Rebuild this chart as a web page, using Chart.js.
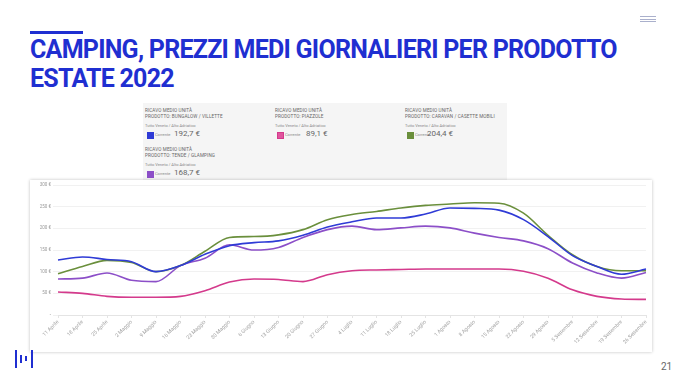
<!DOCTYPE html>
<html>
<head>
<meta charset="utf-8">
<script src="https://cdn.jsdelivr.net/npm/chart.js@4.4.1/dist/chart.umd.min.js"></script>
<style>
  html,body{margin:0;padding:0;background:#fff;}
  body{width:680px;height:383px;position:relative;overflow:hidden;font-family:Roboto,"Noto Sans",sans-serif;}
  .bar{position:absolute;left:30px;top:31px;width:53px;height:3px;background:#1f2fd1;}
  .title{position:absolute;left:30px;top:35px;font-family:Roboto;font-weight:700;font-size:25px;line-height:29px;color:#1f2fd1;letter-spacing:-0.75px;white-space:nowrap;}
  .menu{position:absolute;left:640px;top:16px;width:16px;}
  .menu div{height:1px;background:#aab0cc;margin-bottom:1.5px;}
  .panel{position:absolute;left:143px;top:103px;width:364px;height:77px;background:#f5f5f5;}
  .entry{position:absolute;color:#555;white-space:nowrap;width:125px;}
  .entry .t{font-size:4.6px;line-height:5.6px;letter-spacing:0.1px;text-transform:uppercase;color:#666;}
  .entry .s{font-size:4px;color:#888;margin-top:4px;}
  .entry .v{margin-top:2px;height:9px;position:relative;}
  .entry .sw{position:absolute;left:2px;top:2px;width:5px;height:5px;border:1px solid;}
  .entry .c{position:absolute;left:10px;top:2px;font-size:4px;color:#888;}
  .entry .n{position:absolute;top:-1px;font-size:8px;color:#666;}
  .card{position:absolute;left:30px;top:180px;width:622px;height:172px;background:#fff;box-shadow:0 0 3px rgba(0,0,0,0.25);}
  .card canvas{position:absolute;left:0;top:0;}
  .logo{position:absolute;left:14px;top:350px;width:20px;height:18px;}
  .logo div{position:absolute;background:#1f2fd1;}
  .pg{position:absolute;left:661px;top:361px;font-size:10px;color:#666;font-family:Roboto;}
</style>
</head>
<body>
<div class="bar"></div>
<div class="title">CAMPING, PREZZI MEDI GIORNALIERI PER PRODOTTO<br>ESTATE 2022</div>
<div class="menu"><div></div><div></div><div></div></div>
<div class="panel" id="panel"></div>
<div class="card"><canvas id="c" width="622" height="172"></canvas></div>
<div class="logo">
  <div style="left:1px;top:0;width:2px;height:18px"></div>
  <div style="left:6px;top:5px;width:2px;height:8px"></div>
  <div style="left:11px;top:6px;width:2px;height:5px"></div>
  <div style="left:17px;top:0;width:2px;height:18px"></div>
</div>
<div class="pg">21</div>
<script>
const labels = ["11 Aprile","18 Aprile","25 Aprile","2 Maggio","9 Maggio","16 Maggio","23 Maggio","30 Maggio","6 Giugno","13 Giugno","20 Giugno","27 Giugno","4 Luglio","11 Luglio","18 Luglio","25 Luglio","1 Agosto","8 Agosto","15 Agosto","22 Agosto","29 Agosto","5 Settembre","12 Settembre","19 Settembre","26 Settembre"];
const bungalow = [127,134,128,123,100,114,140,160,167,171,184,203,215,224,224,233,247,246,242,220,181,137,112,94,106];
const piazzole = [53,50,43,41,41,43,56,76,83,82,77,93,102,104,105,106,106,106,106,101,85,58,43,37,36];
const caravan  = [95,112,126,121,100,114,147,179,181,185,197,220,232,239,247,253,256,259,258,235,184,139,112,102,102];
const tende    = [83,85,97,80,77,114,131,162,150,156,179,197,205,197,201,205,201,189,179,171,153,120,97,85,98];
const yTicks = [0,50,100,150,200,250,300];

const seriesNames = ["BUNGALOW / VILLETTE","PIAZZOLE","CARAVAN / CASETTE MOBILI","TENDE / GLAMPING"];
const seriesAvg = ["192,7 €","89,1 €","204,4 €","168,7 €"];
const colors = ["#2f3bd6","#d43a8c","#6a8f3c","#8c4fc8"];
const fills  = ["#2f3bd6","#e0559e","#6a8f3c","#8c4fc8"];

const pos = [[145,108],[275,108],[405,108],[145,147]];
const valX = [29,31,22,29];
const panel = document.getElementById('panel');
seriesNames.forEach((n,i)=>{
  const e = document.createElement('div');
  e.className='entry';
  e.style.left=(pos[i][0]-143)+'px'; e.style.top=(pos[i][1]-103)+'px';
  e.innerHTML = '<div class="t">Ricavo medio unità<br>Prodotto: '+n+'</div>'+
    '<div class="s">Tutto Veneto / Alto Adriatico</div>'+
    '<div class="v"><div class="sw" style="border-color:'+colors[i]+';background:'+fills[i]+'"></div>'+
    '<div class="c">Corrente</div><div class="n" style="left:'+valX[i]+'px">'+seriesAvg[i]+'</div></div>';
  panel.appendChild(e);
});

const data = [bungalow,piazzole,caravan,tende];
new Chart(document.getElementById('c'),{
  type:'line',
  data:{labels:labels,datasets:data.map((d,i)=>({label:seriesNames[i],data:d,borderColor:colors[i],backgroundColor:colors[i],borderWidth:1.6,pointRadius:0,cubicInterpolationMode:'monotone',fill:false}))},
  options:{
    responsive:false,animation:false,
    layout:{padding:{left:0,right:6,top:5,bottom:0}},
    plugins:{legend:{display:false},tooltip:{enabled:false}},
    scales:{
      x:{
        offset:false,
        grid:{display:true,drawOnChartArea:false,drawTicks:true,tickLength:3,color:'#e4e4e4'},
        border:{display:true,color:'#e4e4e4'},
        ticks:{autoSkip:false,maxRotation:45,minRotation:45,color:'#a0a0a0',font:{size:5.2,family:'Roboto'},padding:1},
        afterFit:s=>{s.height=37;}
      },
      y:{
        min:0,max:300,
        afterBuildTicks:s=>{s.ticks=yTicks.map(v=>({value:v}));},
        grid:{color:'#f1f1f1',tickLength:5,drawTicks:true},
        border:{display:false},
        ticks:{color:'#999',font:{size:4.5,family:'Roboto'},padding:2,callback:v=>v===0?'-':v+' €'},
        afterFit:s=>{s.width=28;}
      }
    }
  }
});
</script>
</body>
</html>
